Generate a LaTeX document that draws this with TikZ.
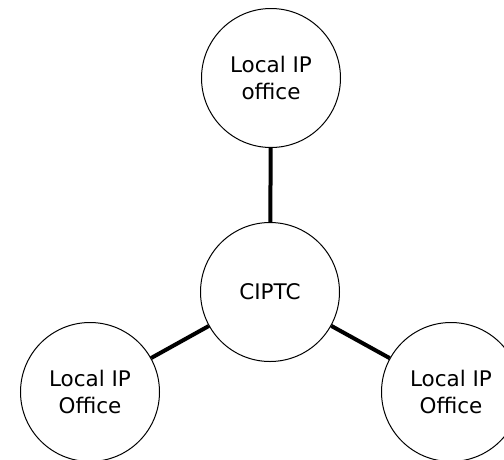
\documentclass[tikz,border=0pt]{standalone}
\usepackage{fontspec}
\setmainfont{DejaVu Sans}
\begin{document}
\begin{tikzpicture}[x=1pt,y=-1pt,
  office/.style={circle,draw,line width=1pt,minimum size=139pt,inner sep=0pt,align=center,font=\fontsize{21.5}{27}\selectfont},
  link/.style={line width=4pt}]
\useasboundingbox (0,0) rectangle (504,459);
\clip (0,0) rectangle (504,459);
\fill[white] (0,0) rectangle (504,459);
\node[office] (top) at (271,78) {Local IP\\office};
\node[office] (hub) at (270,292) {CIPTC};
\node[office] (left) at (90,392) {Local IP\\Office};
\node[office] (right) at (451,392) {Local IP\\Office};
\draw[link] (top) -- (hub);
\draw[link] (hub) -- (left);
\draw[link] (hub) -- (right);
\end{tikzpicture}
\end{document}
